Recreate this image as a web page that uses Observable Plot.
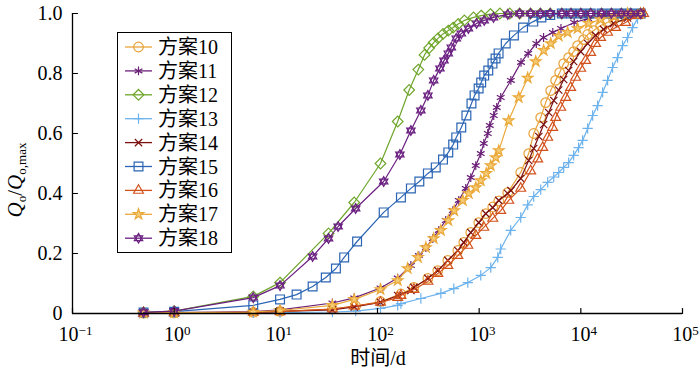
<!DOCTYPE html>
<html><head><meta charset="utf-8">
<script src="https://cdn.jsdelivr.net/npm/d3@7"></script>
<script src="https://cdn.jsdelivr.net/npm/@observablehq/plot@0.6"></script>
<style>
body{margin:0;background:#fff}
svg{display:block}
#chart svg text{font-family:"Liberation Serif","Times New Roman",Times,serif !important;}
#chart svg text.cjk{font-family:"Liberation Serif","Noto Sans CJK SC",sans-serif !important;}
</style>
</head><body><div id="chart"></div>
<script>
// ---- data: [time (d), Qo/Qo,max] ----
const names = ["方案10","方案11","方案12","方案13","方案14","方案15","方案16","方案17","方案18"];
const s10 = [[0.5,0.001],[1,0.002],[6,0.004],[11,0.007],[36,0.015],[61,0.025],[107,0.04],[170,0.065],[228,0.087],[313,0.117],[392,0.143],[492,0.177],[617,0.21],[706,0.237],[827,0.27],[991,0.303],[1161,0.333],[1360,0.355],[1560,0.375],[1910,0.403],[2563,0.47],[3070,0.533],[3440,0.6],[4030,0.653],[4510,0.703],[5050,0.743],[5650,0.777],[6190,0.803],[6780,0.833],[7590,0.853],[8500,0.873],[9300,0.893],[10660,0.913],[11670,0.93],[13370,0.943],[15650,0.96],[18300,0.97],[21000,0.98],[25000,0.99],[29000,0.995],[38700,1.0]];
const s11 = [[0.5,0.002],[1,0.003],[6,0.006],[11,0.012],[36,0.035],[59,0.052],[107,0.085],[158,0.118],[213,0.16],[255,0.193],[299,0.22],[350,0.25],[401,0.277],[469,0.31],[551,0.343],[630,0.377],[738,0.417],[827,0.453],[926,0.493],[1037,0.533],[1110,0.567],[1215,0.6],[1271,0.627],[1391,0.66],[1489,0.687],[1629,0.72],[2049,0.777],[2580,0.837],[3033,0.867],[3650,0.9],[4300,0.92],[5300,0.937],[6380,0.95],[8600,0.97],[11800,0.983],[16700,0.993],[26500,1.0],[38800,1.0]];
const s12 = [[0.5,0.004],[1,0.008],[6,0.057],[11,0.103],[33,0.267],[59,0.37],[107,0.5],[158,0.64],[205,0.745],[252,0.813],[290,0.862],[322,0.885],[357,0.903],[393,0.917],[441,0.932],[497,0.943],[555,0.953],[623,0.965],[715,0.977],[880,0.987],[1047,0.993],[1290,0.998],[1600,1],[2000,1],[2500,1],[3200,1],[4000,1],[5000,1],[6500,1],[8000,1],[10000,1],[12500,1],[16000,1],[20000,1],[25000,1],[31000,1],[38800,1]];
const s13 = [[0.5,0.001],[1,0.001],[6,0.002],[11,0.003],[36,0.005],[61,0.008],[107,0.017],[158,0.027],[170,0.033],[267,0.05],[420,0.067],[563,0.083],[773,0.103],[1037,0.127],[1300,0.153],[1523,0.187],[1629,0.215],[2042,0.277],[2563,0.32],[3003,0.362],[3440,0.39],[4030,0.413],[4720,0.437],[5410,0.455],[6060,0.47],[6780,0.487],[7590,0.503],[8500,0.527],[9510,0.553],[10420,0.577],[11670,0.617],[13070,0.66],[14630,0.693],[16380,0.737],[18340,0.777],[20530,0.82],[22980,0.853],[25720,0.893],[28840,0.92],[32270,0.953],[36130,0.983],[40470,1.0]];
const s14 = [[0.5,0.001],[1,0.002],[6,0.004],[11,0.007],[36,0.012],[59,0.022],[107,0.037],[158,0.06],[213,0.077],[228,0.087],[313,0.117],[392,0.143],[492,0.177],[617,0.21],[706,0.237],[827,0.27],[991,0.303],[1161,0.333],[1360,0.353],[1558,0.377],[1910,0.4],[2049,0.41],[2563,0.45],[3070,0.51],[3440,0.55],[3860,0.59],[4310,0.63],[4830,0.67],[5420,0.71],[6060,0.745],[6780,0.78],[7590,0.81],[8500,0.84],[9960,0.873],[11670,0.9],[13970,0.927],[16740,0.947],[21000,0.967],[28850,0.985],[38700,1.0]];
const s15 = [[0.5,0.003],[1,0.006],[6,0.027],[11,0.047],[16,0.063],[23,0.09],[31,0.12],[39,0.15],[47,0.187],[63,0.24],[115,0.337],[170,0.387],[213,0.417],[258,0.44],[313,0.467],[374,0.487],[441,0.513],[497,0.537],[555,0.563],[595,0.587],[667,0.62],[749,0.66],[840,0.7],[901,0.727],[988,0.75],[1047,0.77],[1121,0.793],[1230,0.81],[1352,0.833],[1449,0.85],[1553,0.867],[1825,0.9],[2196,0.927],[2703,0.953],[3405,0.973],[4096,0.987],[5000,0.995],[6500,1],[8000,1],[10000,1],[12500,1],[16000,1],[20000,1],[25000,1],[31000,1],[38800,1]];
const s16 = [[0.5,0.001],[1,0.002],[6,0.004],[11,0.006],[36,0.015],[59,0.025],[107,0.037],[158,0.053],[170,0.06],[228,0.08],[313,0.107],[392,0.133],[492,0.16],[617,0.193],[773,0.227],[926,0.26],[1110,0.287],[1360,0.317],[1629,0.343],[1954,0.377],[2563,0.417],[3213,0.475],[3765,0.515],[4217,0.553],[4720,0.587],[5285,0.62],[5650,0.653],[6340,0.687],[7100,0.72],[7940,0.753],[8890,0.787],[9960,0.817],[11150,0.843],[12480,0.87],[13970,0.9],[15640,0.92],[18320,0.937],[21960,0.953],[27540,0.97],[36100,0.993],[41400,1.0]];
const s17 = [[0.5,0.002],[1,0.003],[6,0.005],[11,0.01],[36,0.027],[59,0.047],[107,0.08],[158,0.11],[198,0.15],[250,0.187],[299,0.22],[357,0.25],[420,0.277],[497,0.31],[568,0.343],[690,0.377],[790,0.4],[926,0.42],[1037,0.443],[1174,0.467],[1300,0.493],[1455,0.52],[1560,0.543],[1950,0.643],[2450,0.72],[3000,0.785],[3600,0.84],[4310,0.877],[5060,0.9],[6060,0.925],[7420,0.937],[9300,0.95],[11930,0.967],[15650,0.98],[21000,0.99],[28850,1.0],[38700,1.0]];
const s18 = [[0.5,0.004],[1,0.008],[6,0.053],[11,0.093],[23,0.19],[33,0.25],[41,0.29],[61,0.35],[115,0.44],[166,0.53],[213,0.61],[267,0.677],[313,0.727],[357,0.777],[411,0.817],[451,0.843],[497,0.867],[532,0.887],[595,0.917],[667,0.933],[784,0.95],[943,0.967],[1121,0.977],[1383,0.987],[1912,0.997],[2500,1],[3200,1],[4000,1],[5000,1],[6500,1],[8000,1],[10000,1],[12500,1],[16000,1],[20000,1],[25000,1],[31000,1],[38800,1]];
const xTicks = [0.1, 1, 10, 100, 1000, 10000, 100000];
const yTicks = [0, 0.2, 0.4, 0.6, 0.8, 1.0];

// ---- styles ----
const seriesData = [s10, s11, s12, s13, s14, s15, s16, s17, s18];
const colors = ["#E8A23A", "#6B2078", "#6EA52A", "#6CB2EC", "#7B1010", "#2A64B4", "#D2521C", "#EAA838", "#6A1E80"];
const fills  = ["none", "none", "none", "none", "none", "none", "none", "#F4CC78", "none"];
const symbols = ["circle", "asterisk", "diamond2", "plus", "times", "square2", "triangle2", "star", "hexagram"];
const radii = [4.8, 4.2, 4.8, 3.4, 3.4, 5.6, 4.7, 3.3, 4.0];

const tickShape = {draw(ctx, l) { ctx.moveTo(0, 0); ctx.lineTo(0, -l); }};

const marks = [];
seriesData.forEach((s, i) => {
  const d = s.map(([t, v]) => ({t, v}));
  marks.push(Plot.line(d, {x: "t", y: "v", stroke: colors[i], strokeWidth: 1.2}));
  if (symbols[i] === "hexagram") {
    marks.push(Plot.dot(d, {x: "t", y: "v", symbol: "triangle2", r: radii[i], stroke: colors[i], fill: "none", strokeWidth: 1.2}));
    marks.push(Plot.dot(d, {x: "t", y: "v", symbol: "triangle2", rotate: 180, r: radii[i], stroke: colors[i], fill: "none", strokeWidth: 1.2}));
  } else {
    marks.push(Plot.dot(d, {x: "t", y: "v", symbol: symbols[i], r: radii[i], stroke: colors[i], fill: fills[i], strokeWidth: 1.2}));
  }
});

const chart = Plot.plot({
  width: 700, height: 374,
  marginLeft: 72, marginRight: 18, marginTop: 13, marginBottom: 61,
  style: {fontFamily: "Liberation Serif, serif", fontSize: "20px", color: "#000", background: "#fff"},
  x: {type: "log", domain: [0.1, 100000]},
  y: {domain: [0, 1]},
  marks: [
    ...marks,
    Plot.ruleY([0], {stroke: "#000", strokeWidth: 1.3}),
    Plot.ruleX([0.1], {stroke: "#000", strokeWidth: 1.3}),
    Plot.vector(xTicks, {x: d => d, y: 0, length: 5, anchor: "start", shape: tickShape, stroke: "#000", strokeWidth: 1.2}),
    Plot.vector(yTicks, {x: 0.1, y: d => d, length: 5, rotate: 90, anchor: "start", shape: tickShape, stroke: "#000", strokeWidth: 1.2}),
    Plot.axisX({ticks: xTicks, tickSize: 0, tickPadding: 13, tickFormat: d => "10^" + Math.round(Math.log10(d)), label: null}),
    Plot.axisY({ticks: yTicks, tickSize: 0, tickPadding: 10, tickFormat: d => d === 0 ? "0" : d.toFixed(1), label: null})
  ]
});
document.getElementById("chart").appendChild(chart);

const svg = d3.select(chart);
// superscript exponents on x tick labels
svg.selectAll('g[aria-label="x-axis tick label"] text').each(function() {
  const txt = this.textContent;
  const m = txt.match(/10\^(-?\d+)/);
  if (!m) return;
  const e = m[1].replace("-", "\u2212");
  const el = d3.select(this);
  el.text(null).attr("dx", 3);
  el.append("tspan").text("10");
  el.append("tspan").attr("dy", "-0.45em").attr("font-size", "13px").text(e);
});

// y axis title
const yl = svg.append("text")
  .attr("transform", "translate(22,180) rotate(-90)")
  .attr("text-anchor", "middle")
  .attr("font-size", "21px").attr("fill", "#000");
yl.append("tspan").attr("font-style", "italic").text("Q");
yl.append("tspan").attr("font-size", "13px").attr("dy", "4").text("o");
yl.append("tspan").attr("dy", "-4").text("/");
yl.append("tspan").attr("font-style", "italic").text("Q");
yl.append("tspan").attr("font-size", "13px").attr("dy", "4").text("o,max");

// x axis title
svg.append("text").attr("class", "cjk")
  .attr("x", 378).attr("y", 365)
  .attr("text-anchor", "middle")
  .attr("font-size", "20px").attr("fill", "#000")
  .text("时间/d");

// legend
const symMap = {circle: d3.symbolCircle, asterisk: d3.symbolAsterisk, diamond2: d3.symbolDiamond2, plus: d3.symbolPlus,
  times: d3.symbolTimes, square2: d3.symbolSquare2, triangle2: d3.symbolTriangle2, star: d3.symbolStar};
const lg = svg.append("g");
lg.append("rect").attr("x", 117.5).attr("y", 32.5).attr("width", 114).attr("height", 220)
  .attr("fill", "#fff").attr("stroke", "#000").attr("stroke-width", 1);
names.forEach((n, i) => {
  const cy = 47 + i * 23.9;
  const g = lg.append("g");
  g.append("line").attr("x1", 125).attr("x2", 152).attr("y1", cy).attr("y2", cy)
    .attr("stroke", colors[i]).attr("stroke-width", 1.3);
  const size = radii[i] * radii[i] * Math.PI;
  if (symbols[i] === "hexagram") {
    [0, 180].forEach(rot => g.append("path").attr("d", d3.symbol(d3.symbolTriangle2, size)())
      .attr("transform", `translate(138.5,${cy}) rotate(${rot})`)
      .attr("fill", "none").attr("stroke", colors[i]).attr("stroke-width", 1.2));
  } else {
    g.append("path").attr("d", d3.symbol(symMap[symbols[i]], size)())
      .attr("transform", `translate(138.5,${cy})`)
      .attr("fill", fills[i]).attr("stroke", colors[i]).attr("stroke-width", 1.2);
  }
  g.append("text").attr("class", "cjk").attr("x", 158).attr("y", cy + 7)
    .attr("text-anchor", "start")
    .attr("font-size", "20px").attr("fill", "#000").text(n);
});
</script>
</body></html>
